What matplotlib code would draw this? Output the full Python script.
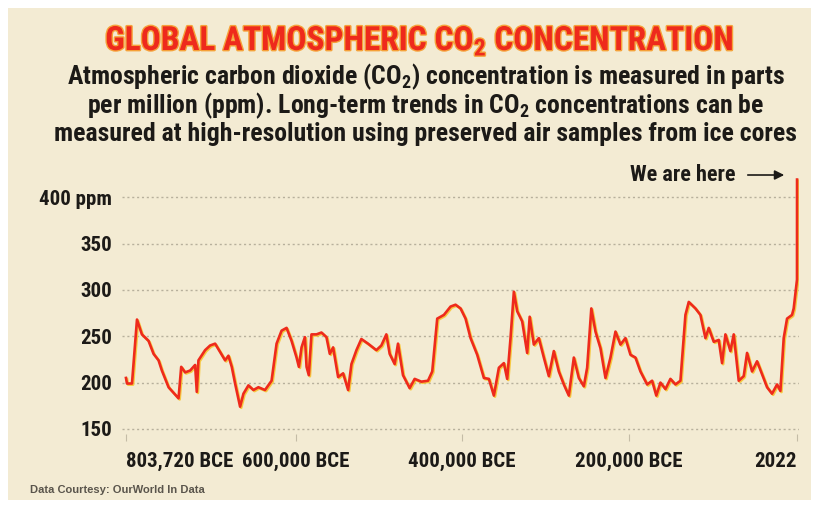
import matplotlib
matplotlib.use("Agg")
import matplotlib.pyplot as plt
import matplotlib.patheffects as pe
from matplotlib.patches import Rectangle

# --- Fonts ---
plt.rcParams['font.family'] = ['Roboto Condensed', 'Liberation Sans', 'DejaVu Sans']
plt.rcParams['mathtext.fontset'] = 'custom'
plt.rcParams['mathtext.rm'] = 'Roboto Condensed'
plt.rcParams['mathtext.bf'] = 'Roboto Condensed:bold'

# --- Ice-core CO2 record (thousand years BCE, ppm) ---
kyr_bce = [803.72, 802.5, 796.5, 790.5, 784.6, 776.6, 770.6, 764.6, 760.6, 752.6,
           740.6, 737.4, 732.7, 726.7, 720.7, 718.7, 716.7, 708.7, 702.7, 696.7,
           690.7, 684.7, 680.7, 676.7, 672.7, 666.7, 662.7, 656.7, 650.7, 644.7,
           636.8, 628.9, 622.9, 616.9, 610.9, 604.9, 598.9, 596.1, 592.9, 588.9,
           586.9, 584.2, 581.0, 575.0, 569.0, 563.0, 559.0, 555.0, 549.0, 543.0,
           537.0, 533.0, 527.0, 521.1, 513.1, 503.1, 497.1, 491.1, 487.1, 481.1,
           477.1, 471.1, 463.1, 457.1, 449.1, 441.1, 436, 430, 422, 414,
           408, 402, 396, 390, 382, 374, 368, 362, 356, 350,
           346, 342, 338, 334, 328, 322, 319, 314, 308, 302,
           296, 290, 284, 278, 272, 266, 260, 254, 250, 245,
           240, 234, 228, 222, 216, 210, 204, 198, 192, 186,
           178, 172, 167, 162, 156, 150, 144, 138, 132, 128,
           120, 114, 108, 104, 98, 92, 88, 84, 78, 74,
           68, 62, 58, 52, 46, 40, 34, 28, 22, 18,
           14, 10, 4, 2]
ppm_ice = [205, 199, 199, 268, 252, 245, 231, 224, 213, 195,
           183, 217, 211, 213, 219, 190, 224, 235, 240, 242,
           233, 224, 229, 217, 199, 174, 188, 197, 192, 195,
           192, 202, 242, 256, 259, 245, 227, 217, 238, 249,
           217, 208, 252, 252, 254, 249, 231, 238, 206, 210,
           192, 220, 235, 247, 242, 235, 240, 252, 231, 220,
           242, 208, 194, 204, 201, 202, 212, 269, 273, 282,
           284, 280, 269, 248, 230, 205, 204, 186, 216, 221,
           204, 248, 298, 277, 266, 232, 271, 241, 248, 227,
           207, 234, 212, 198, 186, 227, 205, 196, 216, 280,
           255, 237, 205, 227, 255, 241, 248, 230, 227, 212,
           198, 202, 186, 200, 193, 204, 198, 202, 273, 287,
           280, 273, 248, 259, 244, 246, 221, 252, 234, 252,
           202, 207, 232, 212, 223, 209, 195, 188, 198, 191,
           248, 269, 273, 280]

# --- Modern measurements (CE) ---
modern_years = [1950, 2022]
modern_ppm = [311, 419]

years = [-k * 1000 for k in kyr_bce] + modern_years
ppm = ppm_ice + modern_ppm

y_ticks = [150, 200, 250, 300, 350, 400]
y_labels = ["150", "200", "250", "300", "350", "400 ppm"]
x_ticks = [-803720, -600000, -400000, -200000, 2022]
x_labels = ["803,720 BCE", "600,000 BCE", "400,000 BCE", "200,000 BCE", "2022"]

paper = '#f3ebd3'
red = '#ee2a1c'
ink = '#1c1a17'

fig = plt.figure(figsize=(8.17, 5.08), dpi=100)
fig.patch.set_facecolor('white')
fig.patches.append(Rectangle((8 / 817, 8 / 508), 803 / 817, 492 / 508,
                             transform=fig.transFigure, facecolor=paper,
                             edgecolor='none', zorder=-10))

ax = fig.add_axes([0.1488, 0.1465, 0.8288, 0.511])
ax.set_facecolor('none')
ax.plot(years, ppm, color=red, linewidth=1.9, solid_joinstyle='round',
        path_effects=[pe.SimpleLineShadow(offset=(0.8, -0.8), shadow_color='#f7c531', alpha=0.9),
                      pe.Normal()])

ax.set_xlim(-809000, 4000)
ax.set_ylim(145, 425)
for s in ax.spines.values():
    s.set_visible(False)

ax.set_yticks(y_ticks)
ax.set_yticklabels(y_labels)
ax.grid(axis='y', color='#b7b09c', linestyle=(0, (1.5, 2.0)), linewidth=1.0)
ax.tick_params(axis='y', length=0, pad=7, labelsize=15, labelcolor=ink)

ax.set_xticks(x_ticks)
ax.set_xticklabels(x_labels)
ax.tick_params(axis='x', length=5, color='#c4bca6', pad=8, labelsize=15, labelcolor=ink)
tl = ax.get_xticklabels()
tl[0].set_ha('left')
tl[-1].set_ha('right')
for lbl in ax.get_xticklabels() + ax.get_yticklabels():
    lbl.set_fontweight('bold')

# --- Headline and intro text ---
fig.text(0.514, 0.919, r'GLOBAL ATMOSPHERIC CO$_\mathbf{2}$ CONCENTRATION',
         ha='center', va='center', fontsize=24, fontweight='bold', color=red,
         path_effects=[pe.withStroke(linewidth=2, foreground='#f6a23a')])
intro = [r'Atmospheric carbon dioxide (CO$_\mathbf{2}$) concentration is measured in parts',
         r'per million (ppm). Long-term trends in CO$_\mathbf{2}$ concentrations can be',
         'measured at high-resolution using preserved air samples from ice cores']
for i, line in enumerate(intro):
    fig.text(0.521, 0.848 - i * 0.056, line, ha='center', va='center',
             fontsize=18.5, fontweight='bold', color=ink)

fig.text(735 / 817, 0.6555, 'We are here', ha='right', va='center',
         fontsize=16, fontweight='bold', color=ink)
ax.annotate('', xy=(787 / 817, 0.6555), xytext=(745 / 817, 0.6555),
            xycoords='figure fraction', textcoords='figure fraction',
            arrowprops=dict(arrowstyle='-|>', color=ink, lw=1.2, mutation_scale=14))

fig.text(30 / 817, 0.035, 'Data Courtesy: OurWorld In Data', ha='left', va='center',
         fontsize=8, fontweight='bold', color='#5a554c', family=['Liberation Sans', 'DejaVu Sans'])

fig.savefig('out.png', dpi=100, facecolor=fig.get_facecolor())
